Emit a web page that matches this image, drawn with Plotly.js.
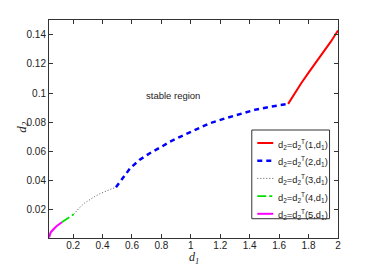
<!DOCTYPE html>
<html><head><meta charset="utf-8">
<script src="https://cdn.plot.ly/plotly-3.0.1.min.js"></script>
<style>html,body{margin:0;padding:0;background:#fff}#chart{width:374px;height:268px}</style>
</head><body><div id="chart"></div>
<script>
// Segment 1 (red, k=1)
const x1 = [1.661, 1.70, 1.75, 1.80, 1.85, 1.90, 1.95, 2.0];
const y1 = [0.0926, 0.0990, 0.1067, 0.1140, 0.1210, 0.1278, 0.1350, 0.1428];
// Segment 2 (blue dashed, k=2)
const x2 = [0.491, 0.52, 0.555, 0.588, 0.65, 0.724, 0.80, 0.859, 0.93, 0.995, 1.06, 1.13, 1.243, 1.35, 1.446, 1.55, 1.661];
const y2 = [0.0355, 0.0395, 0.0445, 0.0486, 0.0542, 0.0590, 0.0632, 0.0668, 0.0702, 0.0732, 0.0764, 0.0794, 0.0830, 0.0862, 0.0888, 0.0908, 0.0926];
// Segment 3 (gray dotted, k=3)
const x3 = [0.204, 0.24, 0.276, 0.31, 0.344, 0.38, 0.412, 0.45, 0.491];
const y3 = [0.017, 0.0212, 0.0246, 0.027, 0.029, 0.031, 0.0325, 0.034, 0.0355];
// Segment 4 (green dash-dot, k=4)
const x4 = [0.123, 0.16, 0.204];
const y4 = [0.0116, 0.0143, 0.017];
// Segment 5 (magenta, k=5)
const x5 = [0.037, 0.04, 0.045, 0.051, 0.06, 0.073, 0.085, 0.096, 0.11, 0.123];
const y5 = [0.0012, 0.0026, 0.0041, 0.0051, 0.0063, 0.0075, 0.0087, 0.0097, 0.0108, 0.0116];
const names = [
  'd<sub>2</sub>=d<sub>2</sub><sup>T</sup>(1,d<sub>1</sub>)',
  'd<sub>2</sub>=d<sub>2</sub><sup>T</sup>(2,d<sub>1</sub>)',
  'd<sub>2</sub>=d<sub>2</sub><sup>T</sup>(3,d<sub>1</sub>)',
  'd<sub>2</sub>=d<sub>2</sub><sup>T</sup>(4,d<sub>1</sub>)',
  'd<sub>2</sub>=d<sub>2</sub><sup>T</sup>(5,d<sub>1</sub>)'
];
const xTicks = [0.2, 0.4, 0.6, 0.8, 1, 1.2, 1.4, 1.6, 1.8, 2];
const yTicks = [0.02, 0.04, 0.06, 0.08, 0.1, 0.12, 0.14];
const yTickText = ['0.02', '0.04', '0.06', '0.08', '0.1', '0.12', '0.14'];

const styles = [
  {color: '#ff0000', width: 2, dash: 'solid'},
  {color: '#0000ff', width: 2.5, dash: '5px,4px'},
  {color: '#555555', width: 1, dash: '1px,2px'},
  {color: '#00e000', width: 1.8, dash: 'dashdot'},
  {color: '#ff00ff', width: 2, dash: 'solid'}
];
const xs = [x1, x2, x3, x4, x5], ys = [y1, y2, y3, y4, y5];
const traces = xs.map((x, i) => ({x: x, y: ys[i], name: names[i], mode: 'lines', line: styles[i], showlegend: false}));

// manual legend (paper coordinates)
const legRows = [0.4358, 0.3546, 0.2734, 0.1922, 0.1110];
const shapes = [{type: 'rect', xref: 'paper', yref: 'paper', x0: 0.7017, x1: 0.9707, y0: 0.0885, y1: 0.4954,
                 line: {color: '#333', width: 1}, fillcolor: '#fff', layer: 'above'}];
const annotations = [];
legRows.forEach((yy, i) => {
  shapes.push({type: 'line', xref: 'paper', yref: 'paper', x0: 0.7207, x1: 0.7759, y0: yy, y1: yy, line: styles[i], layer: 'above'});
  annotations.push({xref: 'paper', yref: 'paper', x: 0.7862, y: yy - 0.005, xanchor: 'left', yanchor: 'middle', showarrow: false,
                    text: names[i], font: {family: 'Liberation Sans, Arial, sans-serif', size: 9.3, color: '#222'}});
});
annotations.push({x: 0.88, y: 0.098, xref: 'x', yref: 'y', text: 'stable region', showarrow: false,
                  font: {family: 'Liberation Sans, Arial, sans-serif', size: 9.5, color: '#222'}});
annotations.push({xref: 'paper', yref: 'paper', x: 0.5, y: -0.133, text: 'd<sub>1</sub>', showarrow: false, xanchor: 'center', yanchor: 'bottom',
                  borderpad: 0, font: {family: 'Liberation Serif, Times New Roman, serif', size: 12, color: '#222', style: 'italic'}});
annotations.push({xref: 'paper', yref: 'paper', x: -0.0948, y: 0.509, text: 'd<sub>2</sub>', showarrow: false, textangle: -90, xanchor: 'center', yanchor: 'middle',
                  font: {family: 'Liberation Serif, Times New Roman, serif', size: 13, color: '#222', style: 'italic'}});

const axFont = {family: 'Liberation Sans, Arial, sans-serif', size: 10, color: '#222'};
const layout = {
  width: 374, height: 268,
  margin: {l: 48.5, r: 35.5, t: 20, b: 30},
  paper_bgcolor: '#fff', plot_bgcolor: '#fff',
  showlegend: false,
  font: axFont,
  xaxis: {range: [0.036, 2], tickvals: xTicks, ticktext: xTicks.map(String), ticks: 'inside', ticklen: 4, tickcolor: '#333',
          ticklabelstandoff: -2,
          showgrid: false, zeroline: false, showline: true, linecolor: '#333', linewidth: 1, mirror: 'ticks', tickfont: axFont},
  yaxis: {range: [0.0008, 0.15], tickvals: yTicks, ticktext: yTickText, ticks: 'inside', ticklen: 4, tickcolor: '#333',
          showgrid: false, zeroline: false, showline: true, linecolor: '#333', linewidth: 1, mirror: 'ticks', tickfont: axFont},
  shapes: shapes,
  annotations: annotations
};
Plotly.newPlot('chart', traces, layout, {displayModeBar: false, staticPlot: true});
</script>
</body></html>
